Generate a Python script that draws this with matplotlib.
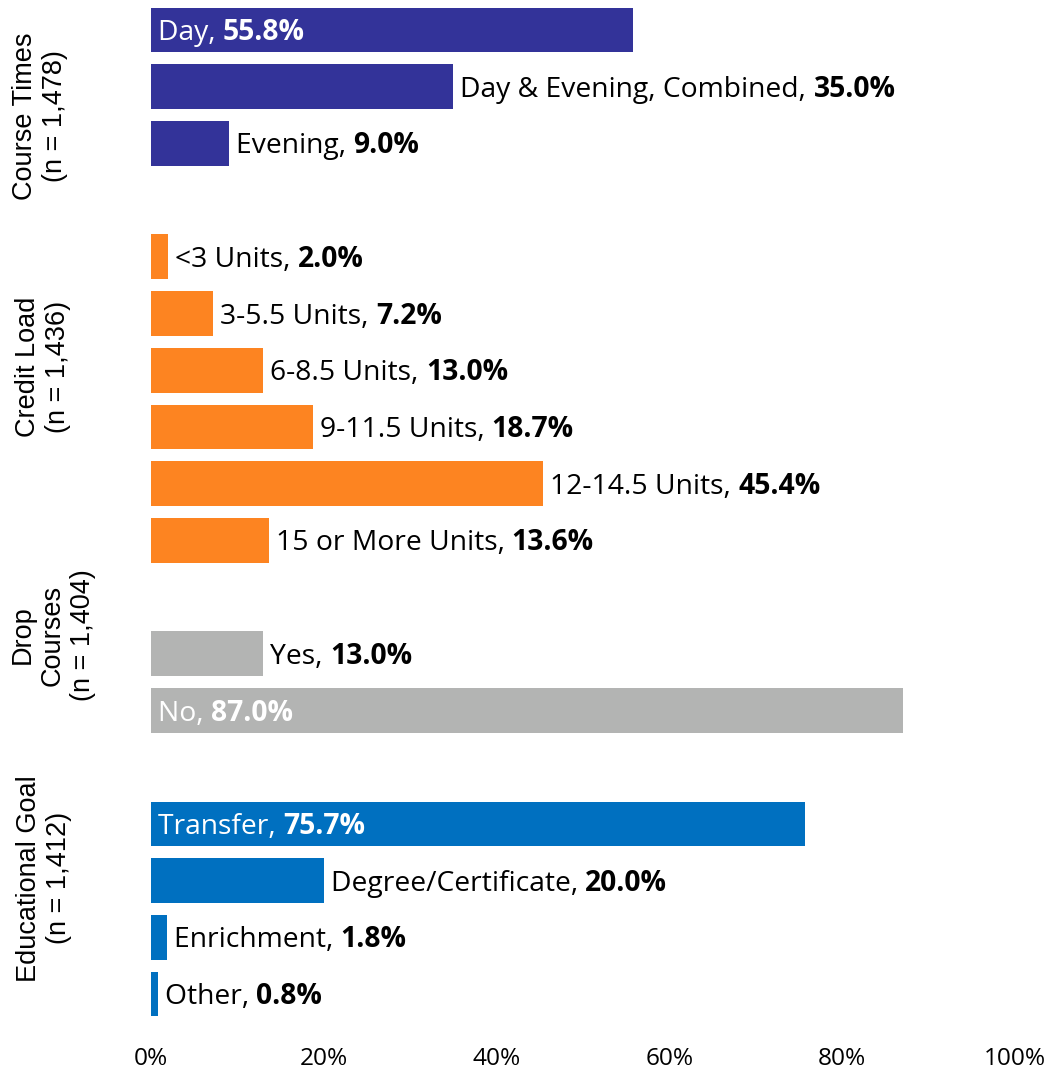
import matplotlib
matplotlib.use("Agg")
import matplotlib.pyplot as plt
import matplotlib.transforms as mtransforms

# ---- data ----
group_names = ["Course Times\n(n = 1,478)", "Credit Load\n(n = 1,436)",
               "Drop\nCourses\n(n = 1,404)", "Educational Goal\n(n = 1,412)"]
group_colors = ["#333399", "#FD8421", "#B3B4B3", "#0070C0"]

course_labels = ["Day", "Day & Evening, Combined", "Evening"]
course_values = [55.8, 35.0, 9.0]
credit_labels = ["<3 Units", "3-5.5 Units", "6-8.5 Units", "9-11.5 Units",
                 "12-14.5 Units", "15 or More Units"]
credit_values = [2.0, 7.2, 13.0, 18.7, 45.4, 13.6]
drop_labels = ["Yes", "No"]
drop_values = [13.0, 87.0]
goal_labels = ["Transfer", "Degree/Certificate", "Enrichment", "Other"]
goal_values = [75.7, 20.0, 1.8, 0.8]

x_ticks = [0, 20, 40, 60, 80, 100]
x_ticklabels = ["0%", "20%", "40%", "60%", "80%", "100%"]

groups = [(course_labels, course_values), (credit_labels, credit_values),
          (drop_labels, drop_values), (goal_labels, goal_values)]

# ---- figure ----
W, H = 1048, 1074
fig = plt.figure(figsize=(W / 100, H / 100), dpi=100)
n_slots = sum(len(g[0]) for g in groups) + len(groups) - 1
ylo, yhi = n_slots - 0.5, -0.5
top_px, bot_px = 1.65, 1022.4
ax = fig.add_axes([151 / W, 1 - bot_px / H, (1015 - 151) / W, (bot_px - top_px) / H])
ax.set_xlim(0, 100)
ax.set_ylim(ylo, yhi)

label_font = "Open Sans"
fs = 20.3
cap_px = 0.714 * fs * 100 / 72  # cap height in pixels

slot = 0
for gi, (labs, vals) in enumerate(groups):
    ys = list(range(slot, slot + len(labs)))
    ax.barh(ys, vals, height=0.79, color=group_colors[gi], edgecolor="none")
    for y, lab, v in zip(ys, labs, vals):
        inside = v > 50
        col = "white" if inside else "black"
        x0 = 0 if inside else v
        t1 = ax.annotate(lab + ", ", xy=(x0, y), xytext=(7, -cap_px / 2),
                         textcoords="offset pixels", ha="left", va="baseline",
                         color=col, fontsize=fs, family=label_font)
        ax.annotate(f"{v:.1f}%", xy=(1, 0), xycoords=t1, ha="left", va="bottom",
                    color=col, fontsize=fs, family=label_font, fontweight="bold")
    slot += len(labs) + 1

# group labels (positions tuned to match reference)
gl_y = [1.52, 5.94, 10.67, 14.96]
gl_x = [40, 43, 53, 44]
trans = mtransforms.blended_transform_factory(fig.transFigure, ax.transData)
for name, gy, gx in zip(group_names, gl_y, gl_x):
    ax.text(gx / W, gy, name, transform=trans, rotation=90, ha="center", va="center",
            multialignment="center", fontsize=19.5, family="Liberation Sans",
            color="black", linespacing=1.2)

ax.set_xticks(x_ticks)
ax.set_xticklabels(x_ticklabels, fontsize=17.6, family=label_font)
ax.tick_params(axis="x", length=0, pad=18)
ax.set_yticks([])
for s in ax.spines.values():
    s.set_visible(False)

fig.savefig("out.png", dpi=100)
